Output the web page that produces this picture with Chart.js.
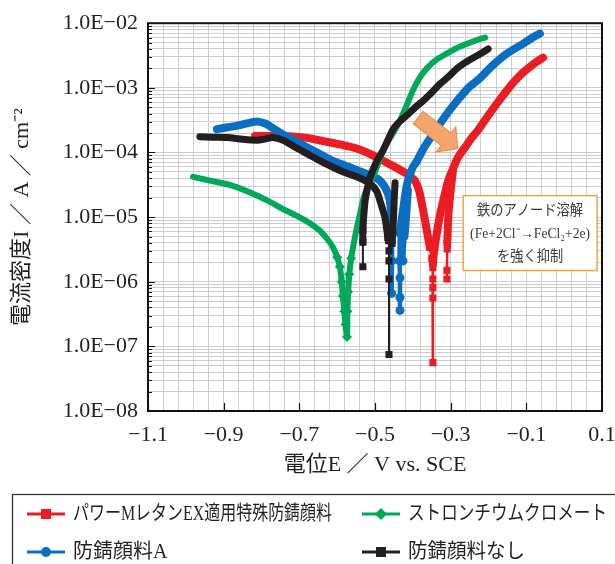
<!DOCTYPE html>
<html lang="ja">
<head>
  <meta charset="UTF-8">
  <title>分極曲線</title>
  <script src="https://cdn.jsdelivr.net/npm/chart.js"></script>
  <style>
    html, body { margin: 0; padding: 0; background: #ffffff; }
    #grafico { display: block; }
  </style>
</head>
<body>
  <canvas id="grafico" width="615" height="564"></canvas>

  <script>
    // series names (legend)
    const nombres = ['パワーMレタンEX適用特殊防錆顔料', 'ストロンチウムクロメート', '防錆顔料A', '防錆顔料なし'];

    // パワーMレタンEX: cathodic branch, Ecorr dip, anodic branch, then the short second strand
    const redE = [-0.817, -0.77, -0.725, -0.68, -0.637, -0.59, -0.548, -0.51, -0.487, -0.46, -0.434, -0.41, -0.394, -0.383,
      -0.376, -0.368, -0.363, -0.355, -0.350, -0.347, -0.347, -0.347, -0.347, -0.347,
      -0.347, -0.338, -0.328, -0.317, -0.307, -0.294, -0.281, -0.262, -0.244, -0.228, -0.204, -0.178, -0.154,
      -0.130, -0.110, -0.090, -0.072, -0.056,
      null, -0.294, -0.300, -0.306, -0.308, -0.309, -0.309, -0.310, -0.310];
    const redI = [1.8e-4, 1.8e-4, 1.78e-4, 1.68e-4, 1.5e-4, 1.32e-4, 1.15e-4, 9.3e-5, 7.9e-5, 6.5e-5, 5.4e-5, 4.4e-5, 3.6e-5, 2.5e-5,
      1.6e-5, 9e-6, 6.2e-6, 3.4e-6, 2.3e-6, 1.65e-6, 1.1e-6, 8.1e-7, 5.6e-7, 5.6e-8,
      1.9e-6, 5e-6, 1.1e-5, 2.1e-5, 3.6e-5, 5.6e-5, 8.3e-5, 1.2e-4, 1.7e-4, 2.2e-4, 3.5e-4, 5.7e-4, 8.7e-4,
      1.29e-3, 1.7e-3, 2.12e-3, 2.55e-3, 2.93e-3,
      null, 5.2e-5, 2.6e-5, 1.1e-5, 5.5e-6, 3.9e-6, 3.2e-6, 1.5e-6, 1.1e-6];

    // ストロンチウムクロメート
    const greenE = [-0.981, -0.93, -0.88, -0.83, -0.78, -0.74, -0.70, -0.67, -0.645, -0.625, -0.611, -0.60, -0.593, -0.588,
      -0.585, -0.581, -0.578, -0.574, -0.573, -0.571, -0.568, -0.563, -0.558, -0.55, -0.54, -0.53, -0.515, -0.50,
      -0.479, -0.465, -0.45, -0.434, -0.415, -0.40, -0.383, -0.363, -0.335, -0.31, -0.285, -0.257, -0.23, -0.209];
    const greenI = [4.2e-5, 3.6e-5, 3.1e-5, 2.4e-5, 1.75e-5, 1.3e-5, 1.0e-5, 7.9e-6, 6.1e-6, 4.5e-6, 3.4e-6, 2.4e-6, 1.7e-6, 1.0e-6,
      6e-7, 3.5e-7, 2.2e-7, 1.4e-7, 3.5e-7, 7e-7, 1.3e-6, 2.3e-6, 3.4e-6, 6e-6, 1.1e-5, 2e-5, 3.4e-5, 5e-5,
      1.07e-4, 1.5e-4, 2.1e-4, 3.1e-4, 5.6e-4, 9.1e-4, 1.4e-3, 2.0e-3, 2.8e-3, 3.4e-3, 4.1e-3, 4.8e-3, 5.5e-3, 6.0e-3];

    // 防錆顔料A
    const blueE = [-0.918, -0.89, -0.857, -0.83, -0.809, -0.79, -0.778, -0.743, -0.71, -0.68, -0.645, -0.611, -0.58, -0.56,
      -0.52, -0.49, -0.475, -0.466, -0.461, -0.457, -0.455, -0.455, -0.455, -0.456,
      null, -0.434, -0.434, -0.434, -0.435, -0.434, -0.426, -0.415, -0.40, -0.389, -0.37, -0.347, -0.315, -0.283,
      -0.253, -0.223, -0.19, -0.151, -0.109, -0.085, -0.064,
      null, -0.413, -0.418, -0.422, -0.426];
    const blueI = [2.3e-4, 2.45e-4, 2.65e-4, 2.9e-4, 3.0e-4, 2.8e-4, 2.55e-4, 1.9e-4, 1.5e-4, 1.2e-4, 9.4e-5, 7.4e-5, 6.3e-5, 5.7e-5,
      4.6e-5, 3.8e-5, 3.0e-5, 2.3e-5, 1.8e-5, 1.1e-5, 6.9e-6, 4e-6, 2.1e-6, 6.6e-7,
      null, 3.6e-7, 5.7e-7, 1.15e-6, 2.1e-6, 5.5e-6, 1.26e-5, 3.3e-5, 5.9e-5, 7.4e-5, 1.2e-4, 1.9e-4, 3.6e-4, 6.3e-4,
      1.0e-3, 1.4e-3, 2.2e-3, 3.4e-3, 4.8e-3, 5.9e-3, 6.9e-3,
      null, 2.6e-5, 1e-5, 5e-6, 2.1e-6];

    // 防錆顔料なし
    const blackE = [-0.963, -0.93, -0.891, -0.85, -0.812, -0.79, -0.77, -0.743, -0.71, -0.68, -0.645, -0.611, -0.58, -0.548,
      -0.513, -0.495, -0.487, -0.474, -0.466, -0.464, -0.463, -0.463, -0.463, -0.463,
      null, -0.447, -0.449, -0.451, -0.453, -0.455,
      null, -0.532, -0.532, -0.532, -0.530, -0.526, -0.52, -0.513, -0.497, -0.479, -0.465, -0.452, -0.435, -0.415,
      -0.395, -0.373, -0.35, -0.328, -0.305, -0.283, -0.262, -0.241, -0.22, -0.201];
    const blackI = [1.75e-4, 1.72e-4, 1.7e-4, 1.6e-4, 1.55e-4, 1.62e-4, 1.7e-4, 1.55e-4, 1.2e-4, 9.6e-5, 7.4e-5, 5.9e-5, 4.9e-5, 4.2e-5,
      3.3e-5, 2.5e-5, 1.8e-5, 1.0e-5, 4.8e-6, 4.3e-6, 3.0e-6, 2.1e-6, 1.1e-6, 7.5e-8,
      null, 3.4e-5, 2e-5, 1e-5, 6e-6, 3.9e-6,
      null, 1.7e-6, 4.1e-6, 6.2e-6, 1.0e-5, 1.8e-5, 2.8e-5, 4.1e-5, 7e-5, 1.07e-4, 1.6e-4, 2.3e-4, 3.0e-4, 3.8e-4,
      4.9e-4, 6.3e-4, 8.5e-4, 1.15e-3, 1.5e-3, 2.0e-3, 2.45e-3, 2.9e-3, 3.4e-3, 4.0e-3];

    // axis ticks
    const xLabelValues = [-1.1, -0.9, -0.7, -0.5, -0.3, -0.1, 0.1];
    const xTickLabels = ['−1.1', '−0.9', '−0.7', '−0.5', '−0.3', '−0.1', '0.1'];
    const yDecades = [1e-2, 1e-3, 1e-4, 1e-5, 1e-6, 1e-7, 1e-8];
    const yTickLabels = ['1.0E−02', '1.0E−03', '1.0E−04', '1.0E−05', '1.0E−06', '1.0E−07', '1.0E−08'];

    // annotation
    const notaLineas = ['鉄のアノード溶解', '(Fe+2Cl⁻→FeCl₂+2e)', 'を強く抑制'];

    const FUENTE = "'Liberation Serif', 'Noto Sans CJK JP', serif";
    const ROJO = '#ec1c24', VERDE = '#00a85a', AZUL = '#0a6fc2', NEGRO = '#231f20';

    function puntos(E, I) {
      return E.map((e, i) => e === null ? {x: null, y: null} : {x: e, y: I[i]});
    }

    function anchoSegmento(grueso, fino, limite) {
      return ctx => {
        const d = ctx.chart.data.datasets[ctx.datasetIndex].data;
        const a = d[ctx.p0DataIndex], b = d[ctx.p1DataIndex];
        return (a && b && a.y < limite && b.y < limite) ? fino : grueso;
      };
    }

    function radioMarca(r, limite) {
      return ctx => (ctx.raw && ctx.raw.y !== null && ctx.raw.y < limite) ? r : 0;
    }

    function serie(nombre, E, I, color, grueso, fino, limFino, estilo, r, limMarca) {
      return {
        label: nombre,
        data: puntos(E, I),
        showLine: true,
        borderColor: color,
        backgroundColor: color,
        borderWidth: grueso,
        borderCapStyle: 'round',
        borderJoinStyle: 'round',
        tension: 0.25,
        spanGaps: false,
        pointStyle: estilo,
        pointRadius: radioMarca(r, limMarca),
        pointBorderWidth: 0,
        pointBackgroundColor: color,
        segment: { borderWidth: anchoSegmento(grueso, fino, limFino) }
      };
    }

    const esDecada = v => Math.abs(Math.log10(v) - Math.round(Math.log10(v))) < 1e-6;

    const extras = {
      id: 'extras',
      afterDatasetsDraw(chart) {
        const {ctx, chartArea: a, scales: {x, y}} = chart;
        ctx.save();

        // arrow
        const x0 = x.getPixelForValue(-0.386), y0 = y.getPixelForValue(3.46e-4);
        const x1 = x.getPixelForValue(-0.281), y1 = y.getPixelForValue(1.15e-4);
        const ang = Math.atan2(y1 - y0, x1 - x0);
        const L = Math.hypot(x1 - x0, y1 - y0), hl = 15, hw = 16, bw = 8;
        ctx.translate(x0, y0);
        ctx.rotate(ang);
        ctx.beginPath();
        ctx.moveTo(0, -bw);
        ctx.lineTo(L - hl, -bw);
        ctx.lineTo(L - hl, -hw);
        ctx.lineTo(L, 0);
        ctx.lineTo(L - hl, hw);
        ctx.lineTo(L - hl, bw);
        ctx.lineTo(0, bw);
        ctx.closePath();
        ctx.fillStyle = '#f4a46c';
        ctx.fill();
        ctx.strokeStyle = '#ee8c3a';
        ctx.lineWidth = 1;
        ctx.stroke();
        ctx.setTransform(1, 0, 0, 1, 0, 0);

        // note box
        const bx0 = x.getPixelForValue(-0.267), bx1 = x.getPixelForValue(0.087);
        const by0 = y.getPixelForValue(2.15e-5), by1 = y.getPixelForValue(1.49e-6);
        ctx.fillStyle = '#ffffff';
        ctx.fillRect(bx0, by0, bx1 - bx0, by1 - by0);
        ctx.strokeStyle = '#f2a34c';
        ctx.lineWidth = 1.5;
        ctx.strokeRect(bx0, by0, bx1 - bx0, by1 - by0);
        ctx.fillStyle = '#3a3a3a';
        ctx.font = '15px ' + FUENTE;
        ctx.textAlign = 'center';
        ctx.textBaseline = 'middle';
        const cx = (bx0 + bx1) / 2;
        const anchos = [106, 120, 66];
        notaLineas.forEach((t, i) => ctx.fillText(t, cx, by0 + 15 + i * 23, anchos[i]));

        // frame and inward ticks
        ctx.strokeStyle = '#111111';
        ctx.lineWidth = 2;
        ctx.strokeRect(a.left, a.top, a.right - a.left, a.bottom - a.top);
        ctx.lineWidth = 1.2;
        ctx.beginPath();
        y.ticks.forEach(t => {
          const py = Math.round(y.getPixelForValue(t.value)) + 0.5;
          const len = esDecada(t.value) ? 7 : 4;
          ctx.moveTo(a.left, py);
          ctx.lineTo(a.left + len, py);
        });
        xLabelValues.forEach(v => {
          const px = Math.round(x.getPixelForValue(v)) + 0.5;
          ctx.moveTo(px, a.bottom);
          ctx.lineTo(px, a.bottom - 8);
        });
        ctx.stroke();
        ctx.restore();
      },
      afterDraw(chart) {
        const ctx = chart.ctx;
        ctx.save();
        ctx.strokeStyle = '#333333';
        ctx.lineWidth = 1.3;
        ctx.strokeRect(12.5, 494.5, 700, 200);

        const ds = chart.data.datasets;
        const buscar = n => ds.find(d => d.label === n);
        const items = [
          {n: nombres[0], x: 27, y: 514, marca: 'rect', w: 259},
          {n: nombres[1], x: 362, y: 514, marca: 'rectRot', w: 199},
          {n: nombres[2], x: 27, y: 552, marca: 'circle', w: 102},
          {n: nombres[3], x: 362, y: 552, marca: 'rect', w: 117}
        ];
        ctx.font = '20px ' + FUENTE;
        ctx.textAlign = 'left';
        ctx.textBaseline = 'middle';
        items.forEach(it => {
          const color = buscar(it.n).borderColor;
          ctx.strokeStyle = color;
          ctx.fillStyle = color;
          ctx.lineWidth = 3;
          ctx.beginPath();
          ctx.moveTo(it.x, it.y);
          ctx.lineTo(it.x + 38, it.y);
          ctx.stroke();
          const mx = it.x + 19;
          ctx.beginPath();
          if (it.marca === 'rect') ctx.rect(mx - 5, it.y - 5, 10, 10);
          else if (it.marca === 'circle') ctx.arc(mx, it.y, 5, 0, Math.PI * 2);
          else { ctx.moveTo(mx, it.y - 6); ctx.lineTo(mx + 6, it.y); ctx.lineTo(mx, it.y + 6); ctx.lineTo(mx - 6, it.y); ctx.closePath(); }
          ctx.fill();
          ctx.fillStyle = '#231f20';
          ctx.fillText(it.n, it.x + 46, it.y + 1, it.w);
        });
        ctx.restore();
      }
    };

    new Chart(document.getElementById('grafico'), {
      type: 'scatter',
      data: {
        datasets: [
          serie(nombres[3], blackE, blackI, NEGRO, 7, 2, 5e-6, 'rect', 5, 7e-6),
          serie(nombres[1], greenE, greenI, VERDE, 6, 6, 0, 'rectRot', 5, 2.5e-6),
          serie(nombres[2], blueE, blueI, AZUL, 8, 4.5, 8e-6, 'circle', 4.5, 3e-6),
          serie(nombres[0], redE, redI, ROJO, 8, 2.5, 4e-6, 'rect', 5, 4e-6)
        ]
      },
      options: {
        responsive: false,
        animation: false,
        events: [],
        layout: { padding: { left: 0, right: 13, top: 23, bottom: 81 } },
        plugins: { legend: { display: false }, tooltip: { enabled: false } },
        scales: {
          x: {
            type: 'linear',
            min: -1.1,
            max: 0.1,
            afterBuildTicks: s => { s.ticks = Array.from({length: 31}, (_, i) => ({value: -1.1 + i * 0.04})); },
            afterFit: s => { s.height = 72; s.paddingRight = 13; s.paddingLeft = 0; },
            grid: { color: '#cdcdcd', lineWidth: 1, drawTicks: false },
            border: { display: false },
            ticks: {
              autoSkip: false,
              maxRotation: 0,
              padding: 11,
              color: '#231f20',
              font: { family: FUENTE, size: 22 },
              callback: v => {
                const k = xLabelValues.findIndex(t => Math.abs(t - v) < 1e-6);
                return k >= 0 ? xTickLabels[k] : '';
              }
            },
            title: {
              display: true,
              text: '電位E ／ V vs. SCE',
              color: '#231f20',
              font: { family: FUENTE, size: 22 },
              padding: { top: 0, bottom: 5 }
            }
          },
          y: {
            type: 'logarithmic',
            min: 1e-8,
            max: 1e-2,
            afterBuildTicks: s => {
              const t = [];
              for (let e = -8; e < -2; e++) for (let m = 1; m < 10; m++) t.push({value: m * Math.pow(10, e)});
              t.push({value: 1e-2});
              s.ticks = t;
            },
            afterFit: s => { s.width = 148; },
            grid: { color: '#cdcdcd', lineWidth: 1, drawTicks: false },
            border: { display: false },
            ticks: {
              autoSkip: false,
              padding: 10,
              color: '#231f20',
              font: { family: FUENTE, size: 22 },
              callback: v => {
                const k = yDecades.findIndex(d => Math.abs(Math.log10(d) - Math.log10(v)) < 1e-6);
                return k >= 0 ? yTickLabels[k] : '';
              }
            },
            title: {
              display: true,
              text: '電流密度I ／ A ／ cm⁻²',
              color: '#231f20',
              font: { family: FUENTE, size: 22 },
              padding: { top: 9, bottom: 0 }
            }
          }
        }
      },
      plugins: [extras]
    });
  </script>
</body>
</html>
